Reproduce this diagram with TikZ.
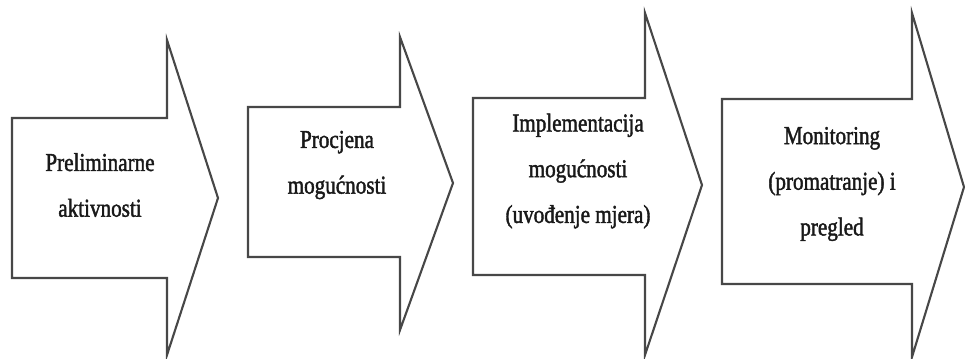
\documentclass[tikz,border=0pt]{standalone}
\usepackage{fontspec}
\setmainfont{Liberation Serif}[FakeStretch=0.82,FakeBold=1.6]

\begin{document}
\begin{tikzpicture}[x=0.03cm,y=-0.03cm,
    blockarrow/.style={draw=black!72,line width=1.8pt,line join=miter,fill=white},
    steptext/.style={align=center,inner sep=0pt,text=black!90,
      font=\fontsize{22}{39}\selectfont}]
      \useasboundingbox (0,0) rectangle (965,358);
      \draw[blockarrow] (12,118) -- (167,118) -- (167,40) -- (218,198)
        -- (167,355) -- (167,278) -- (12,278) -- cycle;
      \draw[blockarrow] (248,107) -- (400,107) -- (400,37) -- (453,183)
        -- (400,330) -- (400,257) -- (248,257) -- cycle;
      \draw[blockarrow] (473,98) -- (645,98) -- (645,13) -- (702,185)
        -- (645,355) -- (645,275) -- (473,275) -- cycle;
      \draw[blockarrow] (722,99) -- (912,99) -- (912,13) -- (964,187)
        -- (912,357) -- (912,284) -- (722,284) -- cycle;
      \node[steptext] (pre) at (100,185) {Preliminarne\\aktivnosti};
      \node[steptext] (pro) at (337,165) {Procjena\\mogućnosti};
      \node[steptext] (imp) at (578,171) {Implementacija\\mogućnosti\\(uvođenje mjera)};
      \node[steptext] (mon) at (832,184) {Monitoring\\(promatranje) i\\pregled};
    \end{tikzpicture}
\end{document}
